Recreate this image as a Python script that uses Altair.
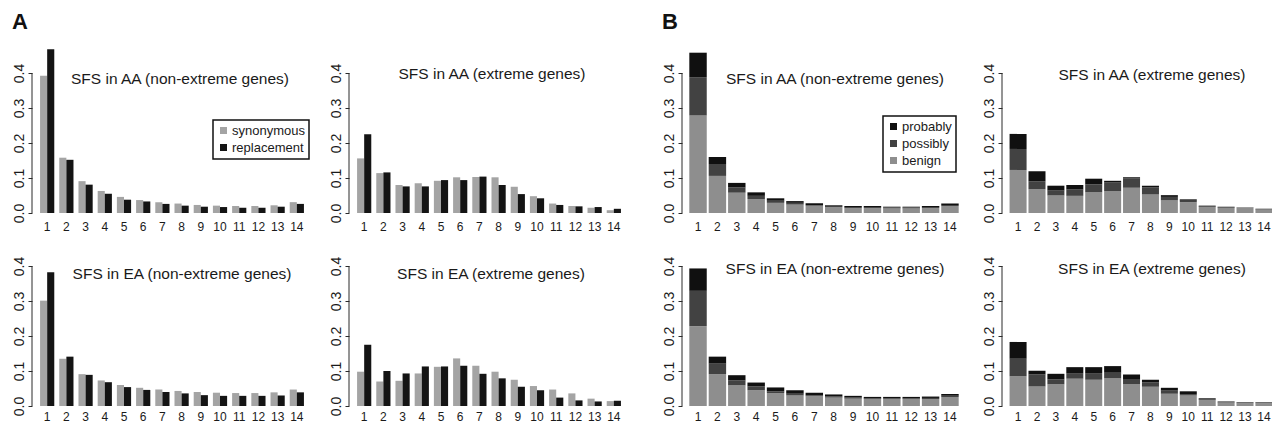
import altair as alt
import pandas as pd

K = list(range(1, 15))

# ---- Panel A: synonymous vs replacement ----
A_TYPES = ["synonymous", "replacement"]
aa_non_syn = [0.392, 0.158, 0.091, 0.063, 0.046, 0.037, 0.031, 0.027, 0.023, 0.021, 0.020, 0.020, 0.022, 0.031]
aa_non_rep = [0.468, 0.152, 0.081, 0.055, 0.038, 0.033, 0.026, 0.021, 0.018, 0.017, 0.015, 0.015, 0.018, 0.026]
aa_ext_syn = [0.156, 0.114, 0.080, 0.085, 0.092, 0.102, 0.103, 0.102, 0.075, 0.048, 0.027, 0.020, 0.015, 0.008]
aa_ext_rep = [0.225, 0.116, 0.076, 0.076, 0.094, 0.094, 0.104, 0.080, 0.054, 0.042, 0.023, 0.019, 0.017, 0.012]
ea_non_syn = [0.301, 0.135, 0.091, 0.073, 0.060, 0.052, 0.047, 0.043, 0.040, 0.038, 0.037, 0.037, 0.039, 0.047]
ea_non_rep = [0.382, 0.141, 0.089, 0.068, 0.054, 0.046, 0.040, 0.036, 0.031, 0.029, 0.029, 0.029, 0.030, 0.039]
ea_ext_syn = [0.098, 0.070, 0.072, 0.093, 0.112, 0.136, 0.115, 0.098, 0.075, 0.057, 0.047, 0.036, 0.021, 0.014]
ea_ext_rep = [0.175, 0.100, 0.093, 0.113, 0.113, 0.115, 0.092, 0.079, 0.055, 0.045, 0.024, 0.016, 0.013, 0.015]

# ---- Panel B: PolyPhen classes (segment heights, stacked) ----
B_CLASSES = ["probably", "possibly", "benign"]
b_aa_non_ben = [0.279, 0.106, 0.058, 0.040, 0.029, 0.024, 0.021, 0.017, 0.014, 0.014, 0.013, 0.013, 0.014, 0.020]
b_aa_non_pos = [0.109, 0.034, 0.015, 0.009, 0.006, 0.005, 0.002, 0.003, 0.003, 0.003, 0.003, 0.003, 0.003, 0.003]
b_aa_non_pro = [0.070, 0.020, 0.013, 0.010, 0.007, 0.005, 0.005, 0.002, 0.003, 0.003, 0.002, 0.002, 0.003, 0.004]

b_aa_ext_ben = [0.123, 0.068, 0.050, 0.049, 0.059, 0.062, 0.072, 0.053, 0.036, 0.031, 0.017, 0.015, 0.014, 0.010]
b_aa_ext_pos = [0.060, 0.023, 0.014, 0.018, 0.023, 0.025, 0.027, 0.020, 0.010, 0.004, 0.002, 0.001, 0.001, 0.001]
b_aa_ext_pro = [0.043, 0.028, 0.014, 0.013, 0.016, 0.005, 0.003, 0.005, 0.005, 0.004, 0.002, 0.002, 0.001, 0.001]

b_ea_non_ben = [0.228, 0.091, 0.059, 0.045, 0.037, 0.030, 0.028, 0.024, 0.021, 0.020, 0.020, 0.020, 0.020, 0.026]
b_ea_non_pos = [0.101, 0.030, 0.014, 0.011, 0.005, 0.005, 0.003, 0.004, 0.003, 0.002, 0.002, 0.002, 0.003, 0.003]
b_ea_non_pro = [0.064, 0.020, 0.015, 0.011, 0.011, 0.010, 0.007, 0.005, 0.005, 0.004, 0.004, 0.004, 0.004, 0.005]

b_ea_ext_ben = [0.085, 0.056, 0.062, 0.078, 0.075, 0.079, 0.063, 0.055, 0.035, 0.030, 0.017, 0.010, 0.008, 0.008]
b_ea_ext_pos = [0.050, 0.034, 0.014, 0.016, 0.019, 0.016, 0.012, 0.012, 0.009, 0.004, 0.002, 0.001, 0.001, 0.001]
b_ea_ext_pro = [0.048, 0.011, 0.016, 0.017, 0.017, 0.019, 0.015, 0.008, 0.008, 0.008, 0.003, 0.002, 0.002, 0.002]

Y_TICKS = [0.0, 0.1, 0.2, 0.3, 0.4]
Y_DOMAIN = [0, 0.48]
H = 168
WA = 280
AX = "#2a2a2a"
TXT = "#1a1a1a"
FONT = "Liberation Sans"


def xaxis(pad):
    return alt.Axis(labelAngle=0, ticks=False, tickSize=0, domain=False, labelPadding=pad,
                    labelFontSize=12, grid=False, title=None, labelColor=TXT)


yaxis = alt.Axis(values=Y_TICKS, format=".1f", domain=False, tickSize=4, tickColor=AX,
                 labelAngle=270, labelAlign="center", labelBaseline="bottom", labelPadding=2,
                 labelFontSize=14, grid=False, title=None, labelColor=TXT)


def axis_line():
    return alt.Chart(pd.DataFrame({"a": [Y_TICKS[0]], "b": [Y_TICKS[-1]]})).mark_rule(
        color=AX, strokeWidth=1).encode(
        x=alt.value(0), y=alt.Y("a:Q", scale=alt.Scale(domain=Y_DOMAIN), axis=yaxis), y2="b:Q")


def title_text(t, tx, ty):
    return alt.Chart(pd.DataFrame({"t": [t]})).mark_text(
        fontSize=15.5, font=FONT, color=TXT, align="center", baseline="middle").encode(
        text="t:N", x=alt.value(tx), y=alt.value(ty))


def a_panel(title, syn, rep, tx, ty, legend, pad):
    df = pd.DataFrame({"k": K + K, "type": ["synonymous"] * 14 + ["replacement"] * 14,
                       "v": syn + rep})
    bars = alt.Chart(df).mark_bar().encode(
        x=alt.X("k:O", sort=K, scale=alt.Scale(paddingInner=0.26, paddingOuter=0.42), axis=xaxis(pad)),
        xOffset=alt.XOffset("type:N", sort=A_TYPES, scale=alt.Scale(paddingInner=0, paddingOuter=0)),
        y=alt.Y("v:Q", scale=alt.Scale(domain=Y_DOMAIN), axis=yaxis),
        color=alt.Color("type:N", scale=alt.Scale(domain=A_TYPES, range=["#a4a4a4", "#141414"]),
                        legend=legend),
    )
    return alt.layer(bars, axis_line(), title_text(title, tx, ty)).properties(width=WA, height=H)


def b_panel(title, ben, pos, pro, tx, ty, legend, pad, width, po):
    df = pd.DataFrame({"k": K * 3,
                       "cls": ["benign"] * 14 + ["possibly"] * 14 + ["probably"] * 14,
                       "ord": [0] * 14 + [1] * 14 + [2] * 14,
                       "v": ben + pos + pro})
    bars = alt.Chart(df).mark_bar().encode(
        x=alt.X("k:O", sort=K, scale=alt.Scale(paddingInner=0.1, paddingOuter=po), axis=xaxis(pad)),
        y=alt.Y("sum(v):Q", stack="zero", scale=alt.Scale(domain=Y_DOMAIN), axis=yaxis),
        color=alt.Color("cls:N", scale=alt.Scale(domain=B_CLASSES,
                                                 range=["#101010", "#424242", "#8e8e8e"]),
                        legend=legend),
        order=alt.Order("ord:Q"),
    )
    return alt.layer(bars, axis_line(), title_text(title, tx, ty)).properties(width=width, height=H)


leg_common = dict(title=None, orient="none", strokeColor="#111111", symbolType="square",
                  symbolSize=49, symbolStrokeWidth=0, labelFontSize=13, rowPadding=3,
                  labelOffset=2, labelColor=TXT, labelFont=FONT)
legA = alt.Legend(legendX=181, legendY=75, padding=4, **leg_common)
legB = alt.Legend(legendX=201, legendY=71, padding=4, **leg_common)

top0 = 28  # pixel position of the 0.4 level inside each plot
PT, PB = 8, 5   # x-label padding, top row / bottom row

pA1 = a_panel("SFS in AA (non-extreme genes)", aa_non_syn, aa_non_rep, 148, top0 + 6, legA, PT)
pA2 = a_panel("SFS in AA (extreme genes)", aa_ext_syn, aa_ext_rep, 143, top0 + 1, None, PT)
pA3 = a_panel("SFS in EA (non-extreme genes)", ea_non_syn, ea_non_rep, 150, top0 + 8, None, PB)
pA4 = a_panel("SFS in EA (extreme genes)", ea_ext_syn, ea_ext_rep, 142, top0 + 8, None, PB)

pB1 = b_panel("SFS in AA (non-extreme genes)", b_aa_non_ben, b_aa_non_pos, b_aa_non_pro,
              153, top0 + 6, legB, PT, 284, 0.377)
pB2 = b_panel("SFS in AA (extreme genes)", b_aa_ext_ben, b_aa_ext_pos, b_aa_ext_pro,
              150, top0 + 2, None, PT, 278, 0.4)
pB3 = b_panel("SFS in EA (non-extreme genes)", b_ea_non_ben, b_ea_non_pos, b_ea_non_pro,
              153, top0 + 3, None, PB, 284, 0.377)
pB4 = b_panel("SFS in EA (extreme genes)", b_ea_ext_ben, b_ea_ext_pos, b_ea_ext_pro,
              150, top0 + 3, None, PB, 278, 0.4)

RES = dict(x="independent", y="independent", color="independent", xOffset="independent")


def row(a, b, sp):
    return alt.hconcat(a, b, spacing=sp).resolve_scale(**RES)


def grid(r1, r2, letter):
    return alt.vconcat(r1, r2, spacing=6,
                       title=alt.TitleParams(letter, anchor="start", fontSize=22, fontWeight="bold",
                                             font=FONT, color="#111111", offset=11)
                       ).resolve_scale(**RES)


gridA = grid(row(pA1, pA2, 17), row(pA3, pA4, 17), "A")
gridB = grid(row(pB1, pB2, 16), row(pB3, pB4, 16), "B")

# autosize "none": the page is exactly 1264 x 415 px and anything beyond is cropped,
# like the reference figure whose right and bottom edges are cut. The padding also
# reserves room for the left axis labels and the panel letters.
PAD_L, PAD_T = 24, 37
chart = alt.hconcat(gridA, gridB, spacing=33).resolve_scale(**RES).properties(
    autosize=alt.AutoSizeParams(type="none"),
    padding={"left": PAD_L, "top": PAD_T, "right": 1264 - PAD_L, "bottom": 415 - PAD_T},
).configure_view(strokeWidth=0, stroke="transparent").configure(
    font=FONT, style={"cell": {"stroke": "transparent", "strokeWidth": 0}}
).configure_axis(labelColor=TXT, grid=False).configure_legend(strokeColor="#111111", strokeWidth=1.5)

chart.save("out.html", embed_options={"renderer": "svg", "actions": False})
